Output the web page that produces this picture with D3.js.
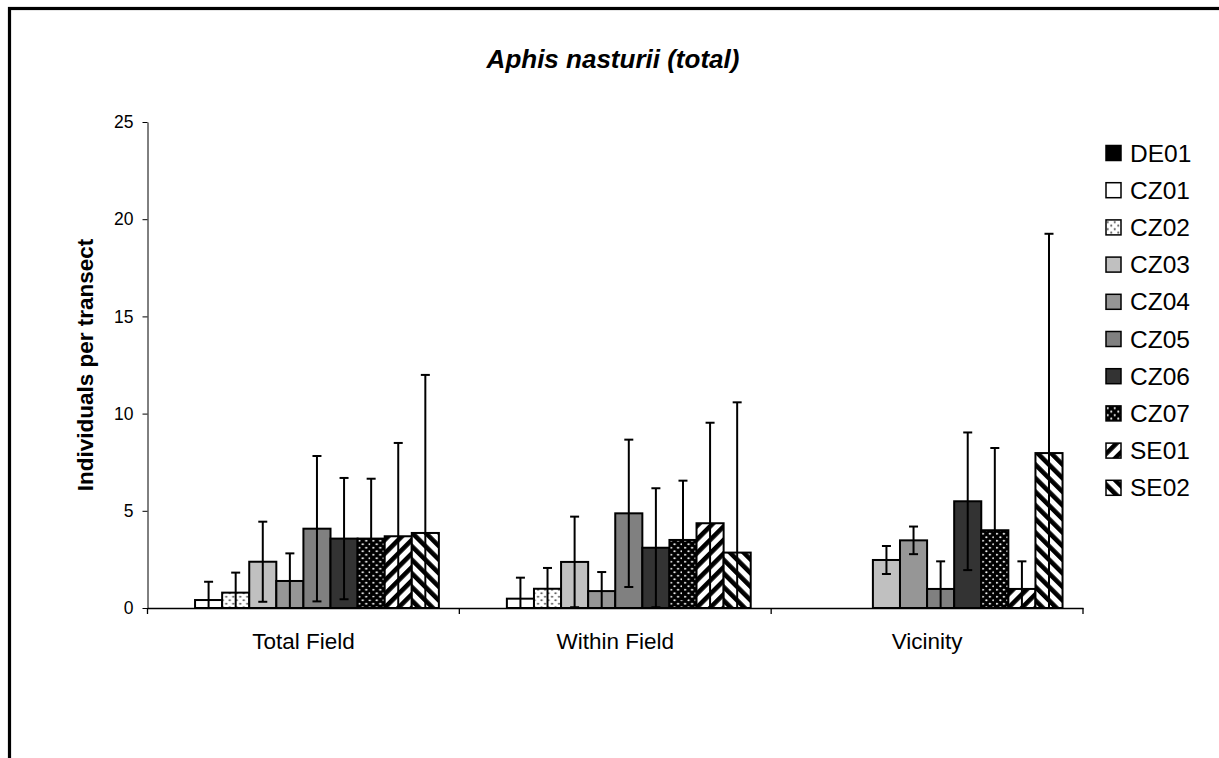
<!DOCTYPE html>
<html>
<head>
<meta charset="utf-8">
<script src="https://cdn.jsdelivr.net/npm/d3@7"></script>
<style>
  html, body { margin: 0; padding: 0; background: #fff; }
  svg { display: block; font-family: "Liberation Sans", Arial, sans-serif; }
</style>
</head>
<body>
<svg id="chart" width="1219" height="758"></svg>
<script>
// Aphis nasturii counts per transect, by site, with standard deviations
const categories = ["Total Field", "Within Field", "Vicinity"];
const sites = ["DE01", "CZ01", "CZ02", "CZ03", "CZ04", "CZ05", "CZ06", "CZ07", "SE01", "SE02"];

const totalFieldMean  = [0, 0.41, 0.79, 2.38, 1.39, 4.08, 3.57, 3.57, 3.69, 3.86];
const totalFieldSd    = [0, 0.94, 1.03, 2.06, 1.42, 3.74, 3.12, 3.08, 4.80, 8.13];
const withinFieldMean = [0, 0.48, 0.99, 2.37, 0.87, 4.87, 3.10, 3.50, 4.36, 2.85];
const withinFieldSd   = [0, 1.08, 1.07, 2.33, 0.98, 3.79, 3.06, 3.05, 5.17, 7.73];
const vicinityMean    = [0, 0, 0, 2.47, 3.48, 0.98, 5.49, 4.00, 0.98, 7.97];
const vicinitySd      = [0, 0, 0, 0.72, 0.71, 1.42, 3.54, 4.23, 1.42, 11.28];

const yTicks = [0, 5, 10, 15, 20, 25];

const means = [totalFieldMean, withinFieldMean, vicinityMean];
const sds = [totalFieldSd, withinFieldSd, vicinitySd];

const rows = [];
categories.forEach((c, ci) => {
  sites.forEach((s, si) => {
    rows.push({ category: c, site: s, mean: means[ci][si], sd: sds[ci][si] });
  });
});

const svg = d3.select("#chart");

// outer frame of the chart area
svg.append("rect")
  .attr("x", 9.5).attr("y", 8.5)
  .attr("width", 1400).attr("height", 1000)
  .attr("fill", "#fff").attr("stroke", "#000").attr("stroke-width", 3.2);

// fill patterns
const defs = svg.append("defs");

function dotPattern(id, bg, dot, r) {
  const p = defs.append("pattern").attr("id", id)
    .attr("patternUnits", "userSpaceOnUse").attr("width", 7).attr("height", 7);
  p.append("rect").attr("width", 7).attr("height", 7).attr("fill", bg);
  p.append("circle").attr("cx", 1.75).attr("cy", 1.75).attr("r", r).attr("fill", dot);
  p.append("circle").attr("cx", 5.25).attr("cy", 5.25).attr("r", r).attr("fill", dot);
}
dotPattern("dotsLight", "#fff", "#555", 1.1);
dotPattern("dotsDark", "#000", "#fff", 1.1);

function stripePattern(id, angle) {
  const p = defs.append("pattern").attr("id", id)
    .attr("patternUnits", "userSpaceOnUse").attr("width", 9.6).attr("height", 9.6)
    .attr("patternTransform", `rotate(${angle})`);
  p.append("rect").attr("width", 9.6).attr("height", 9.6).attr("fill", "#fff");
  p.append("rect").attr("width", 4.6).attr("height", 9.6).attr("fill", "#000");
}
stripePattern("stripesUp", 45);
stripePattern("stripesDown", -45);

const fills = {
  DE01: "#000000",
  CZ01: "#ffffff",
  CZ02: "url(#dotsLight)",
  CZ03: "#c0c0c0",
  CZ04: "#969696",
  CZ05: "#808080",
  CZ06: "#333333",
  CZ07: "url(#dotsDark)",
  SE01: "url(#stripesUp)",
  SE02: "url(#stripesDown)"
};

// scales
const plot = { left: 147.5, right: 1083, top: 122, bottom: 608 };
const x0 = d3.scaleBand().domain(categories).range([plot.left, plot.right]).padding(0);
const x1 = d3.scaleBand().domain(sites).range([0, x0.bandwidth()]).paddingInner(0).paddingOuter(0.755);
const y = d3.scaleLinear().domain([0, 25]).range([plot.bottom, plot.top]);

// title
svg.append("text")
  .attr("x", 613).attr("y", 68)
  .attr("text-anchor", "middle")
  .attr("font-size", 26).attr("font-weight", "bold").attr("font-style", "italic")
  .text("Aphis nasturii (total)");

// y axis
const yAxis = svg.append("g")
  .attr("transform", `translate(${plot.left},0)`)
  .call(d3.axisLeft(y).tickValues(yTicks).tickSize(5).tickSizeOuter(0).tickPadding(9));
yAxis.selectAll("text").attr("font-size", 17.5).attr("fill", "#000").attr("font-family", "Liberation Sans, Arial, sans-serif");
yAxis.selectAll("line, path").attr("stroke", "#000");

svg.append("text")
  .attr("transform", `translate(93,365) rotate(-90)`)
  .attr("text-anchor", "middle")
  .attr("font-size", 22.5).attr("font-weight", "bold")
  .text("Individuals per transect");

// bars
const groups = svg.append("g").selectAll("g")
  .data(categories).join("g")
  .attr("transform", d => `translate(${x0(d)},0)`);

groups.selectAll("rect")
  .data(c => rows.filter(r => r.category === c))
  .join("rect")
  .attr("x", d => x1(d.site))
  .attr("y", d => y(d.mean))
  .attr("width", x1.bandwidth())
  .attr("height", d => y(0) - y(d.mean))
  .attr("fill", d => fills[d.site])
  .attr("stroke", "#000")
  .attr("stroke-width", 2);

// error bars (clipped at the axis minimum)
const errs = groups.selectAll("g.err")
  .data(c => rows.filter(r => r.category === c && r.sd > 0))
  .join("g").attr("class", "err")
  .attr("transform", d => `translate(${x1(d.site) + x1.bandwidth() / 2},0)`);
const cap = 4.5;
errs.append("line")
  .attr("y1", d => y(Math.max(0, d.mean - d.sd)))
  .attr("y2", d => y(d.mean + d.sd))
  .attr("stroke", "#000").attr("stroke-width", 2);
errs.append("line")
  .attr("x1", -cap).attr("x2", cap)
  .attr("y1", d => y(d.mean + d.sd)).attr("y2", d => y(d.mean + d.sd))
  .attr("stroke", "#000").attr("stroke-width", 2);
errs.filter(d => d.mean - d.sd > 0).append("line")
  .attr("x1", -cap).attr("x2", cap)
  .attr("y1", d => y(d.mean - d.sd)).attr("y2", d => y(d.mean - d.sd))
  .attr("stroke", "#000").attr("stroke-width", 2);

// x axis: line, boundary ticks, category labels
const xAxis = svg.append("g")
  .attr("transform", `translate(0,${plot.bottom})`)
  .call(d3.axisBottom(x0).tickSize(0).tickPadding(25));
xAxis.select(".domain").attr("stroke", "#000").attr("stroke-width", 1.3);
xAxis.selectAll("text").attr("font-size", 22.5).attr("fill", "#000").attr("font-family", "Liberation Sans, Arial, sans-serif");
const bounds = categories.map(c => x0(c)).concat([plot.right]);
xAxis.selectAll("line.bound").data(bounds).join("line")
  .attr("class", "bound")
  .attr("x1", d => d).attr("x2", d => d)
  .attr("y1", 0).attr("y2", 6)
  .attr("stroke", "#000").attr("stroke-width", 1.3);

// legend
const legend = svg.append("g").selectAll("g")
  .data(sites).join("g")
  .attr("transform", (d, i) => `translate(1106,${153 + i * 37.2})`);
legend.append("rect")
  .attr("x", 0).attr("y", -7.5).attr("width", 15).attr("height", 15)
  .attr("fill", d => fills[d]).attr("stroke", "#000").attr("stroke-width", 1.5);
legend.append("text")
  .attr("x", 24).attr("y", 8.5)
  .attr("font-size", 24.5)
  .text(d => d);
</script>
</body>
</html>
